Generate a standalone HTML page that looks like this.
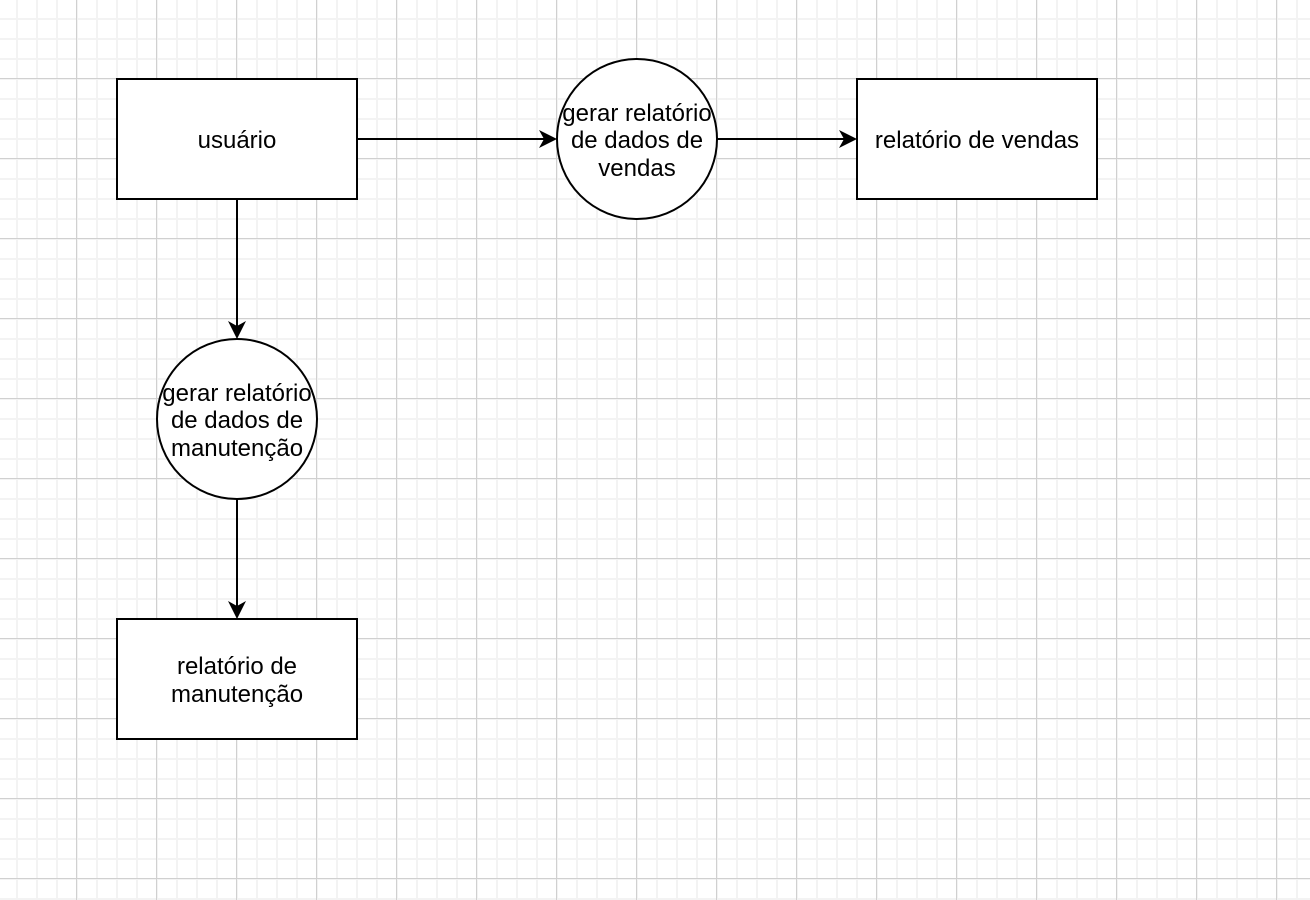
<!DOCTYPE html>
<html><head><meta charset="utf-8"><style>
html,body{margin:0;padding:0;background:#fff;}
svg{display:block}
text{font-family:"Liberation Sans",Helvetica,Arial,sans-serif;font-size:24px;fill:#000;text-anchor:middle}
</style></head><body>
<svg width="1310" height="900" viewBox="0 0 1310 900" xmlns="http://www.w3.org/2000/svg">
<defs>
<pattern id="minor" x="-4" y="-2" width="20" height="20" patternUnits="userSpaceOnUse">
<path d="M0 1H20M1 0V20" stroke="#f3f3f3" stroke-width="2" fill="none"/>
</pattern>
<pattern id="major" x="-4" y="-2" width="80" height="80" patternUnits="userSpaceOnUse">
<path d="M0 0.5H80M0.5 0V80" stroke="#d0d0d0" stroke-width="1" fill="none"/>
</pattern>
</defs>
<rect width="1310" height="900" fill="#fff"/>
<rect width="1310" height="900" fill="url(#minor)"/>
<rect width="1310" height="900" fill="url(#major)"/>
<g stroke="#000" stroke-width="2" fill="#fff">
<rect x="117" y="79" width="240" height="120"/>
<rect x="857" y="79" width="240" height="120"/>
<rect x="117" y="619" width="240" height="120"/>
<circle cx="637" cy="139" r="80"/>
<circle cx="237" cy="419" r="80"/>
<path d="M357 139H550M717 139H850M237 199V330M237 499V610" fill="none"/>
</g>
<g fill="#000">
<path d="M557 139L539 130L544 139L539 148Z"/>
<path d="M857 139L839 130L844 139L839 148Z"/>
<path d="M237 339L228 321L237 326L246 321Z"/>
<path d="M237 619L228 601L237 606L246 601Z"/>
</g>
<text x="237" y="148">usuário</text>
<text x="977" y="148">relatório de vendas</text>
<text x="637" y="121">gerar relatório</text>
<text x="637" y="148">de dados de</text>
<text x="637" y="176">vendas</text>
<text x="237" y="401">gerar relatório</text>
<text x="237" y="428">de dados de</text>
<text x="237" y="456">manutenção</text>
<text x="237" y="674">relatório de</text>
<text x="237" y="702">manutenção</text>
</svg>
</body></html>
